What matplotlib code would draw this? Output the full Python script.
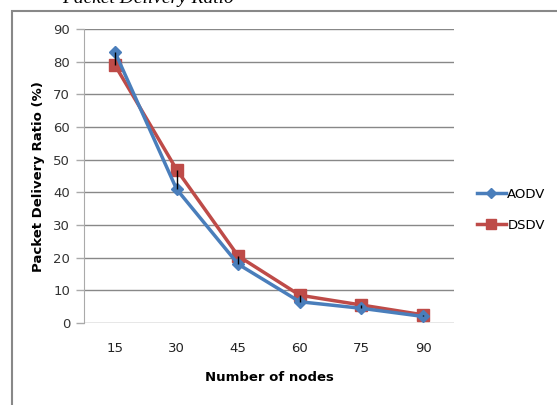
import matplotlib.pyplot as plt
from matplotlib.patches import Rectangle
import numpy as np

# dados
nodes = ['15', '30', '45', '60', '75', '90']
aodv = [83, 41, 18, 6.5, 4.5, 2]
dsdv = [79, 47, 20.5, 8.5, 5.5, 2.5]

plt.rcParams['font.family'] = ['DejaVu Sans']

fig = plt.figure(figsize=(5.57, 4.05), dpi=100)
ax = fig.add_axes([0.151, 0.2025, 0.664, 0.7255])

x = np.arange(len(nodes))

# linhas high-low entre as duas series
ax.vlines(x, np.minimum(aodv, dsdv), np.maximum(aodv, dsdv), color='black', lw=1, zorder=4)

ax.plot(x, aodv, color='#4a7ebb', lw=2.5, marker='D', markersize=6, label='AODV', zorder=3)
ax.plot(x, dsdv, color='#be4b48', lw=2.5, marker='s', markersize=9, label='DSDV', zorder=2)

ax.set_xlim(-0.5, 5.5)
ax.set_ylim(0, 90)
ax.set_yticks(range(0, 91, 10))
ax.set_xticks(x)
ax.set_xticklabels(nodes)
ax.tick_params(axis='x', length=0, pad=14, labelsize=9.5, colors='#222222')
ax.tick_params(axis='y', length=6, color='#aaaaaa', width=1, labelsize=9.5, colors='#333333', pad=4)
ax.grid(axis='y', color='#888888', lw=1)
ax.set_axisbelow(True)
for s in ['top', 'right', 'bottom']:
    ax.spines[s].set_visible(False)
ax.spines['left'].set_color('#aaaaaa')

ax.set_xlabel('Number of nodes', fontsize=9.5, fontweight='bold', labelpad=11)
ax.set_ylabel('Packet Delivery Ratio (%)', fontsize=9.5, fontweight='bold', labelpad=6)

ax.legend(loc='center left', bbox_to_anchor=(1.03, 0.385), frameon=False, fontsize=9.5,
          handlelength=2.2, labelspacing=1.4, handletextpad=0.1, markerscale=0.8)

# titulo cortado no topo
fig.text(62 / 557, 1 - 3 / 405, 'Packet Delivery Ratio', fontsize=14, style='italic',
         family='Liberation Serif', va='baseline', ha='left')

# moldura
fig.patches.append(Rectangle((12 / 557, -0.1), 1.2, 1.1 - 11 / 405, transform=fig.transFigure,
                             fill=False, edgecolor='#888888', lw=1.5))

plt.savefig('out.png', dpi=100)
plt.close()
